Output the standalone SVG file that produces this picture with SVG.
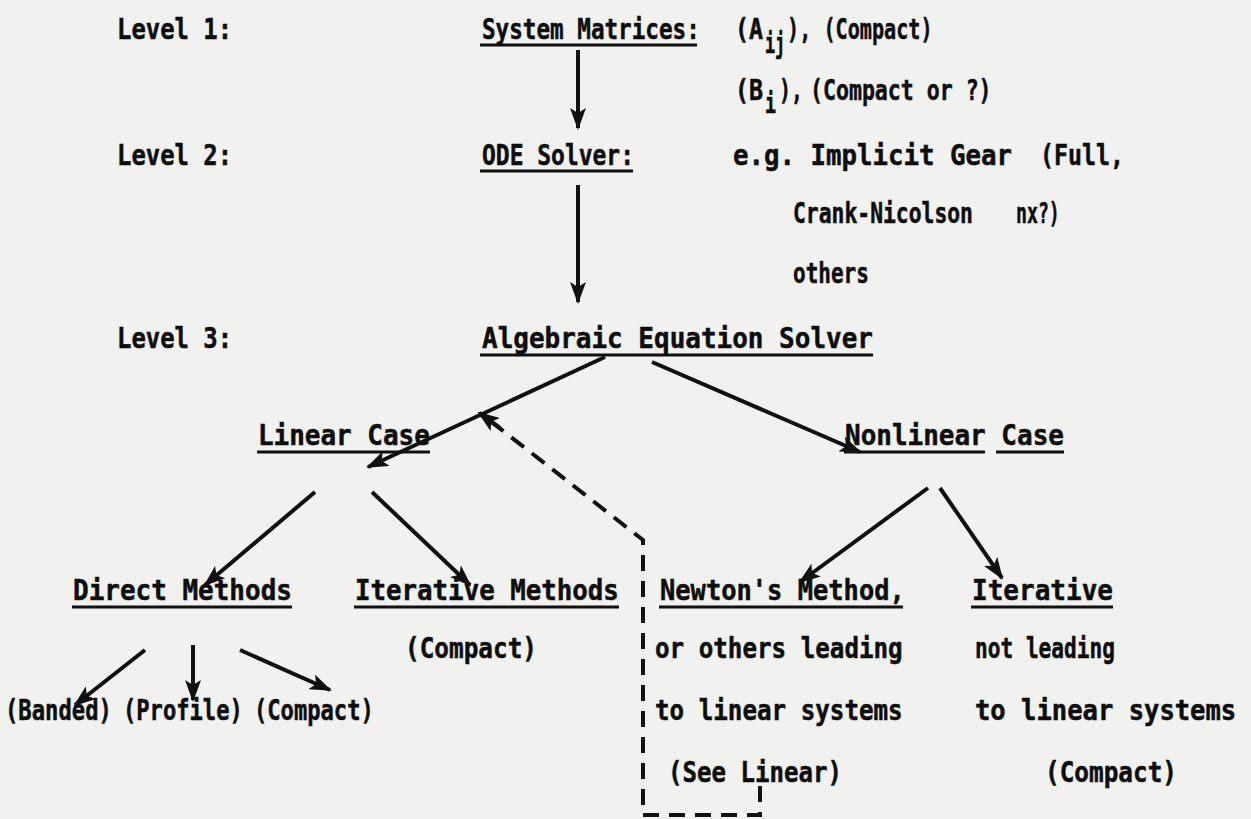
<svg xmlns="http://www.w3.org/2000/svg" width="1251" height="819" viewBox="0 0 1251 819">
<style>
  .t { font-family: "DejaVu Sans Mono", "Liberation Mono", monospace; font-weight: bold; font-size: 28px; fill: #0d0d0d; stroke: #0d0d0d; stroke-width: 0.5; }
  .u { stroke: #111; stroke-width: 3; fill: none; }
  .c { stroke: #111; stroke-width: 4; fill: none; marker-end: url(#ah); }
  .d { stroke: #111; stroke-width: 4; fill: none; stroke-dasharray: 16 10; }
</style>
<defs>
  <marker id="ah" markerUnits="userSpaceOnUse" markerWidth="22" markerHeight="16" viewBox="0 0 22 16" refX="20" refY="8" orient="auto">
    <path d="M0,0 L22,8 L0,16 L5,8 Z" fill="#111"/>
  </marker>
</defs>
<rect width="1251" height="819" fill="#f1f1ef"/>

<g id="levels">
  <text class="t" transform="translate(117,39) scale(0.853,1)">Level 1:</text>
  <text class="t" transform="translate(117,165) scale(0.853,1)">Level 2:</text>
  <text class="t" transform="translate(117,348) scale(0.853,1)">Level 3:</text>
</g>

<g id="system-matrices">
  <text class="t" transform="translate(482,39) scale(0.808,1)">System Matrices:</text>
  <path class="u" d="M480,45 H697"/>
</g>
<g id="matrix-notes">
  <text class="t" transform="translate(735,39) scale(0.83,1)">(A</text>
  <text class="t" transform="translate(765,53) scale(0.6,1)">ij</text>
  <text class="t" transform="translate(787,39) scale(0.72,1)">), (Compact)</text>
  <text class="t" transform="translate(735,100) scale(0.83,1)">(B</text>
  <text class="t" transform="translate(765,113) scale(0.65,1)">i</text>
  <text class="t" transform="translate(779,100) scale(0.71,1)">),</text>
  <text class="t" transform="translate(810,100) scale(0.77,1)">(Compact or ?)</text>
</g>

<g id="ode-solver">
  <text class="t" transform="translate(482,165) scale(0.82,1)">ODE Solver:</text>
  <path class="u" d="M480,171 H633"/>
</g>
<g id="ode-notes">
  <text class="t" transform="translate(733,165) scale(0.92,1)">e.g. Implicit Gear</text>
  <text class="t" transform="translate(1040,165) scale(0.83,1)">(Full,</text>
  <text class="t" transform="translate(793,223) scale(0.763,1)">Crank-Nicolson</text>
  <text class="t" transform="translate(1016,223) scale(0.65,1)">nx?)</text>
  <text class="t" transform="translate(793,283) scale(0.75,1)">others</text>
</g>

<g id="algebraic-solver">
  <text class="t" transform="translate(482,348) scale(0.928,1)">Algebraic Equation Solver</text>
  <path class="u" d="M480,355 H873"/>
</g>

<g id="linear-case">
  <text class="t" transform="translate(258,445) scale(0.927,1)">Linear Case</text>
  <path class="u" d="M257,452 H430"/>
</g>
<g id="nonlinear-case">
  <text class="t" transform="translate(845,445) scale(0.928,1)">Nonlinear Case</text>
  <path class="u" d="M844,452 H985 M996,452 H1064"/>
</g>

<g id="direct-methods">
  <text class="t" transform="translate(73,600) scale(0.928,1)">Direct Methods</text>
  <path class="u" d="M72,607 H292"/>
</g>
<g id="iterative-methods">
  <text class="t" transform="translate(355,600) scale(0.921,1)">Iterative Methods</text>
  <path class="u" d="M354,607 H619"/>
  <text class="t" transform="translate(405,658) scale(0.87,1)">(Compact)</text>
</g>
<g id="newton">
  <text class="t" transform="translate(660,600) scale(0.908,1)">Newton's Method,</text>
  <path class="u" d="M659,607 H903"/>
  <text class="t" transform="translate(655,658) scale(0.865,1)">or others leading</text>
  <text class="t" transform="translate(655,720) scale(0.865,1)">to linear systems</text>
  <text class="t" transform="translate(668,782) scale(0.86,1)">(See Linear)</text>
</g>
<g id="iterative-nonlinear">
  <text class="t" transform="translate(972,600) scale(0.93,1)">Iterative</text>
  <path class="u" d="M971,607 H1113"/>
  <text class="t" transform="translate(975,658) scale(0.755,1)">not leading</text>
  <text class="t" transform="translate(975,720) scale(0.912,1)">to linear systems</text>
  <text class="t" transform="translate(1045,782) scale(0.87,1)">(Compact)</text>
</g>

<g id="banded"><text class="t" transform="translate(5,720) scale(0.793,1)">(Banded)</text></g>
<g id="profile"><text class="t" transform="translate(123,720) scale(0.79,1)">(Profile)</text></g>
<g id="compact-direct"><text class="t" transform="translate(254,720) scale(0.79,1)">(Compact)</text></g>

<g id="connectors">
  <path class="c" d="M578,50 L578,128"/>
  <path class="c" d="M578,185 L578,302"/>
  <path class="c" d="M605,357 L368,467"/>
  <path class="c" d="M652,362 L860,452"/>
  <path class="c" d="M315,492 L205,585"/>
  <path class="c" d="M372,492 L470,585"/>
  <path class="c" d="M928,488 L800,582"/>
  <path class="c" d="M940,488 L1002,578"/>
  <path class="c" d="M145,650 L75,705"/>
  <path class="c" d="M193,645 L193,700"/>
  <path class="c" d="M240,650 L330,690"/>
  <path class="d" d="M760,786 V815 H643 V540 L484,416"/>
  <path class="c" d="M500,428 L479,413"/>
</g>
</svg>
